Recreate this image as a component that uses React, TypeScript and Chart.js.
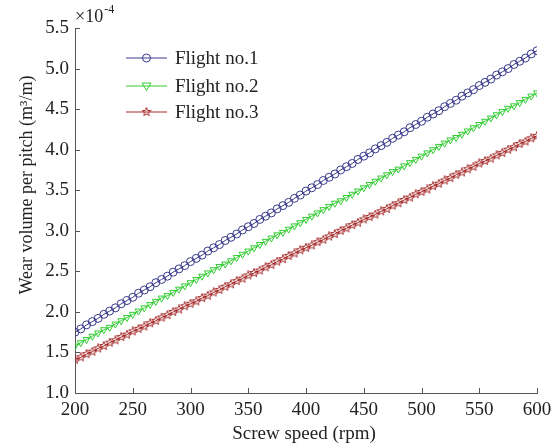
import React, { useEffect, useRef } from "react";
import { Chart, registerables } from "chart.js";
Chart.register(...registerables);

const speeds = [
  200, 205, 210, 215, 220, 225, 230, 235, 240, 245, 250, 255, 260, 265, 270, 275, 280, 285, 290, 295,
  300, 305, 310, 315, 320, 325, 330, 335, 340, 345, 350, 355, 360, 365, 370, 375, 380, 385, 390, 395,
  400, 405, 410, 415, 420, 425, 430, 435, 440, 445, 450, 455, 460, 465, 470, 475, 480, 485, 490, 495,
  500, 505, 510, 515, 520, 525, 530, 535, 540, 545, 550, 555, 560, 565, 570, 575, 580, 585, 590, 595, 600,
];

// values in units of 1e-4 m^3/m
const flight1 = [
  1.75, 1.79, 1.84, 1.88, 1.92, 1.97, 2.01, 2.05, 2.10, 2.14, 2.18, 2.23, 2.27, 2.31, 2.36, 2.40, 2.44, 2.49, 2.53, 2.57,
  2.62, 2.66, 2.70, 2.75, 2.79, 2.83, 2.88, 2.92, 2.96, 3.01, 3.05, 3.09, 3.14, 3.18, 3.22, 3.27, 3.31, 3.35, 3.40, 3.44,
  3.49, 3.53, 3.57, 3.62, 3.66, 3.70, 3.75, 3.79, 3.83, 3.88, 3.92, 3.96, 4.01, 4.05, 4.09, 4.14, 4.18, 4.22, 4.27, 4.31,
  4.35, 4.40, 4.44, 4.48, 4.53, 4.57, 4.61, 4.66, 4.70, 4.74, 4.79, 4.83, 4.87, 4.92, 4.96, 5.00, 5.05, 5.09, 5.13, 5.18, 5.22,
];
const flight2 = [
  1.58, 1.62, 1.66, 1.70, 1.74, 1.78, 1.81, 1.85, 1.89, 1.93, 1.97, 2.01, 2.05, 2.09, 2.13, 2.17, 2.20, 2.24, 2.28, 2.32,
  2.36, 2.40, 2.44, 2.48, 2.52, 2.56, 2.59, 2.63, 2.67, 2.71, 2.75, 2.79, 2.83, 2.87, 2.91, 2.95, 2.98, 3.02, 3.06, 3.10,
  3.14, 3.18, 3.22, 3.26, 3.30, 3.34, 3.37, 3.41, 3.45, 3.49, 3.53, 3.57, 3.61, 3.65, 3.69, 3.73, 3.76, 3.80, 3.84, 3.88,
  3.92, 3.96, 4.00, 4.04, 4.08, 4.12, 4.15, 4.19, 4.23, 4.27, 4.31, 4.35, 4.39, 4.43, 4.47, 4.51, 4.54, 4.58, 4.62, 4.66, 4.70,
];
const flight3 = [
  1.41, 1.44, 1.48, 1.51, 1.55, 1.58, 1.62, 1.65, 1.69, 1.72, 1.76, 1.79, 1.82, 1.86, 1.89, 1.93, 1.96, 2.00, 2.03, 2.07,
  2.10, 2.13, 2.17, 2.20, 2.24, 2.27, 2.31, 2.34, 2.38, 2.41, 2.45, 2.48, 2.51, 2.55, 2.58, 2.62, 2.65, 2.69, 2.72, 2.76,
  2.79, 2.82, 2.86, 2.89, 2.93, 2.96, 3.00, 3.03, 3.07, 3.10, 3.14, 3.17, 3.20, 3.24, 3.27, 3.31, 3.34, 3.38, 3.41, 3.45,
  3.48, 3.51, 3.55, 3.58, 3.62, 3.65, 3.69, 3.72, 3.76, 3.79, 3.83, 3.86, 3.89, 3.93, 3.96, 4.00, 4.03, 4.07, 4.10, 4.14, 4.17,
];

const seriesNames = ["Flight no.1", "Flight no.2", "Flight no.3"];
const seriesColors = ["#3a3a8c", "#33cc33", "#a52a2a"];
const xTicks = [200, 250, 300, 350, 400, 450, 500, 550, 600];
const yTicks = [1.0, 1.5, 2.0, 2.5, 3.0, 3.5, 4.0, 4.5, 5.0, 5.5];
const xTitle = "Screw speed (rpm)";
const yTitle = "Wear volume per pitch (m³/m)";

const FONT = "'Liberation Serif', 'DejaVu Serif', serif";
const AXIS_COLOR = "#555555";
const TEXT_COLOR = "#222222";

function makeStar(color: string, size: number): HTMLCanvasElement {
  const c = document.createElement("canvas");
  c.width = size;
  c.height = size;
  const ctx = c.getContext("2d")!;
  const cx = size / 2;
  const cy = size / 2;
  const R = size / 2 - 0.5;
  const r = R * 0.42;
  ctx.beginPath();
  for (let i = 0; i < 10; i++) {
    const ang = -Math.PI / 2 + (i * Math.PI) / 5;
    const rad = i % 2 === 0 ? R : r;
    const px = cx + rad * Math.cos(ang);
    const py = cy + rad * Math.sin(ang);
    if (i === 0) ctx.moveTo(px, py);
    else ctx.lineTo(px, py);
  }
  ctx.closePath();
  ctx.strokeStyle = color;
  ctx.lineWidth = 1;
  ctx.stroke();
  return c;
}

export default function App() {
  const ref = useRef<HTMLCanvasElement | null>(null);

  useEffect(() => {
    if (!ref.current) return;
    const star = makeStar(seriesColors[2], 10);
    const styles: any[] = ["circle", "triangle", star];
    const rotations = [0, 180, 0];
    const all = [flight1, flight2, flight3];

    const overlay = {
      id: "overlay",
      afterDraw(chart: any) {
        const ctx = chart.ctx as CanvasRenderingContext2D;
        const xs = chart.scales.x;
        const ys = chart.scales.y;
        const area = chart.chartArea;
        ctx.save();
        // inward ticks
        ctx.strokeStyle = AXIS_COLOR;
        ctx.lineWidth = 1;
        ctx.beginPath();
        for (const t of xTicks) {
          const px = Math.round(xs.getPixelForValue(t)) + 0.5;
          ctx.moveTo(px, area.bottom);
          ctx.lineTo(px, area.bottom - 5);
        }
        for (const t of yTicks) {
          const py = Math.round(ys.getPixelForValue(t)) + 0.5;
          ctx.moveTo(area.left, py);
          ctx.lineTo(area.left + 5, py);
        }
        ctx.stroke();
        // axis titles
        ctx.fillStyle = TEXT_COLOR;
        ctx.font = `19px ${FONT}`;
        ctx.textAlign = "center";
        ctx.textBaseline = "middle";
        ctx.fillText(xTitle, 304, 434);
        ctx.save();
        ctx.translate(27, 185);
        ctx.rotate(-Math.PI / 2);
        ctx.font = `18px ${FONT}`;
        ctx.fillText(yTitle, 0, 0);
        ctx.restore();
        // exponent
        ctx.textBaseline = "alphabetic";
        ctx.textAlign = "left";
        ctx.font = `18px ${FONT}`;
        ctx.fillText("×10", area.left, 22);
        const w = ctx.measureText("×10").width;
        ctx.font = `12px ${FONT}`;
        ctx.fillText("-4", area.left + w + 1, 13);
        // legend
        const lx0 = 126;
        const lx1 = 167;
        const rowsY = [58, 86, 112];
        for (let i = 0; i < 3; i++) {
          const y = rowsY[i];
          ctx.strokeStyle = seriesColors[i];
          ctx.lineWidth = 1;
          ctx.beginPath();
          ctx.moveTo(lx0, y);
          ctx.lineTo(lx1, y);
          ctx.stroke();
          const mx = (lx0 + lx1) / 2;
          ctx.beginPath();
          if (i === 0) {
            ctx.arc(mx, y, 4, 0, Math.PI * 2);
            ctx.stroke();
          } else if (i === 1) {
            ctx.moveTo(mx - 4.5, y - 3);
            ctx.lineTo(mx + 4.5, y - 3);
            ctx.lineTo(mx, y + 4.5);
            ctx.closePath();
            ctx.stroke();
          } else {
            ctx.drawImage(star, mx - 5, y - 5);
          }
          ctx.fillStyle = TEXT_COLOR;
          ctx.font = `19px ${FONT}`;
          ctx.textBaseline = "middle";
          ctx.fillText(seriesNames[i], 175, y + 1);
        }
        ctx.restore();
      },
    };

    const chart = new Chart(ref.current, {
      type: "line",
      data: {
        datasets: all.map((vals, i) => ({
          label: seriesNames[i],
          data: speeds.map((s, j) => ({ x: s, y: vals[j] })),
          borderColor: seriesColors[i],
          borderWidth: 1,
          backgroundColor: "transparent",
          pointStyle: styles[i],
          pointRotation: rotations[i],
          pointRadius: 4,
          pointHoverRadius: 4,
          pointBorderWidth: 1,
          pointBorderColor: seriesColors[i],
          pointBackgroundColor: "transparent",
          fill: false,
          tension: 0,
        })),
      },
      options: {
        animation: false,
        responsive: true,
        maintainAspectRatio: false,
        layout: { padding: { top: 28, right: 21, left: 0, bottom: 0 } },
        plugins: {
          legend: { display: false },
          tooltip: { enabled: false },
        },
        events: [],
        scales: {
          x: {
            type: "linear",
            min: 200,
            max: 600,
            afterBuildTicks: (scale: any) => {
              scale.ticks = xTicks.map((v) => ({ value: v }));
            },
            afterFit: (scale: any) => {
              scale.height = 55;
            },
            grid: { display: true, drawOnChartArea: false, drawTicks: false },
            border: { display: true, color: AXIS_COLOR, width: 1 },
            ticks: {
              color: TEXT_COLOR,
              font: { family: FONT, size: 19 },
              padding: 6,
              maxRotation: 0,
              callback: (v: any) => String(v),
            },
            title: { display: false },
          },
          y: {
            type: "linear",
            min: 1.0,
            max: 5.5,
            afterBuildTicks: (scale: any) => {
              scale.ticks = yTicks.map((v) => ({ value: v }));
            },
            afterFit: (scale: any) => {
              scale.width = 75;
            },
            grid: { display: true, drawOnChartArea: false, drawTicks: false },
            border: { display: true, color: AXIS_COLOR, width: 1 },
            ticks: {
              color: TEXT_COLOR,
              font: { family: FONT, size: 19 },
              padding: 6,
              callback: (v: any) => Number(v).toFixed(1),
            },
            title: { display: false },
          },
        },
      },
      plugins: [overlay],
    } as any);

    return () => chart.destroy();
  }, []);

  return (
    <div style={{ position: "absolute", left: 0, top: 0, width: 558, height: 448, background: "#fff" }}>
      <canvas ref={ref} />
    </div>
  );
}
